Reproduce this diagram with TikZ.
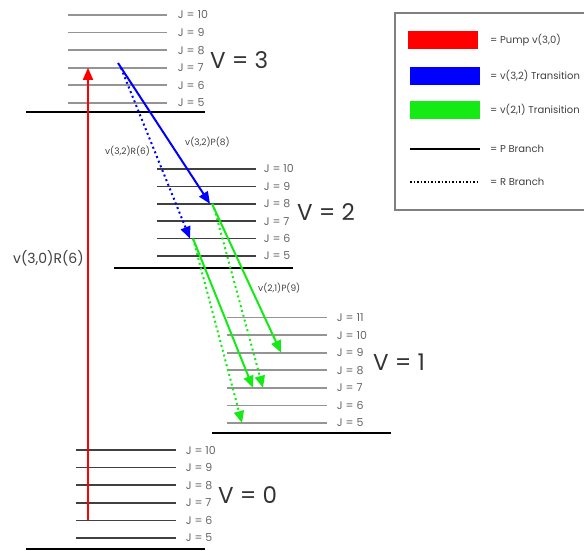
\documentclass[tikz,border=0pt]{standalone}
\usepackage{fontspec}
\setmainfont{Poppins}
\usetikzlibrary{arrows.meta}

\definecolor{pumpred}{RGB}{255,0,0}
\definecolor{transblue}{RGB}{0,0,255}
\definecolor{transgreen}{RGB}{20,235,20}

\begin{document}
\begin{tikzpicture}[x=1pt, y=-1pt,
	jline/.style={line width=1.8pt, draw=black!42},
	jdark/.style={line width=1.6pt, draw=black!75},
	baseline/.style={line width=2.6pt, draw=black},
	jlab/.style={anchor=west, text=black!60, inner sep=0pt, font=\fontsize{11}{13}\selectfont},
	vlab/.style={anchor=west, text=black!80, inner sep=0pt, font=\fontsize{23}{26}\selectfont},
	tlab/.style={anchor=west, text=black!75, inner sep=0pt, font=\fontsize{9}{11}\selectfont},
	legtext/.style={anchor=west, text=black!75, inner sep=0pt, font=\fontsize{10}{12}\selectfont},
	tip/.style={-{Triangle[length=12pt,width=10pt]}},
	pbranch/.style={line width=2pt, tip},
	rbranch/.style={line width=2pt, dash pattern=on 2pt off 3pt, tip},
	]
				\useasboundingbox (0,0) rectangle (584,551);
				
				% Vibrational levels v = 3 and v = 0
				\draw[baseline] (26,112) -- (205,112);
				\draw[baseline] (26,549) -- (205,549);
				\foreach \j in {5,...,10}{
					\draw[jline] (68,{103-17.6*(\j-5)}) -- (167,{103-17.6*(\j-5)}) node[jlab, xshift=10pt] (v3j\j) {J = \j};
					\draw[jdark] (76,{538-17.6*(\j-5)}) -- (176,{538-17.6*(\j-5)}) node[jlab, xshift=9pt] (v0j\j) {J = \j};
				}
				\node[vlab] (v3) at (210,60) {V = 3};
				\node[vlab] (v0) at (218,495) {V = 0};
				
				% Vibrational level v = 2
				\draw[baseline] (114,268) -- (293,268);
				\foreach \j in {5,...,10}
					\draw[jdark] (157,{256-17.4*(\j-5)}) -- (256,{256-17.4*(\j-5)}) node[jlab, xshift=7pt] (v2j\j) {J = \j};
				\node[vlab] (v2) at (297,212) {V = 2};
				
				% Vibrational level v = 1
				\draw[baseline] (212,433) -- (391,433);
				\foreach \j in {5,...,11}
					\draw[jline] (227,{423-17.6*(\j-5)}) -- (327,{423-17.6*(\j-5)}) node[jlab, xshift=9pt] (v1j\j) {J = \j};
				\node[vlab] (v1) at (373,362) {V = 1};
				
				% Define coordinates
				\coordinate (red0) at (88,520.4);
				\coordinate (red3) at (88,67.8);
				\coordinate (b3P) at (118,63);
				\coordinate (b2P) at (210,203.8);
				\coordinate (b3R) at (121,68);
				\coordinate (b2R) at (190,238.6);
				\coordinate (g2P) at (212,203.8);
				\coordinate (g1P) at (281,352.6);
				\coordinate (g2Pr) at (213,203.8);
				\coordinate (g1Pr) at (263,387.8);
				\coordinate (g2R) at (193,238.6);
				\coordinate (g1R) at (253,387.8);
				\coordinate (g2Rr) at (193,238.6);
				\coordinate (g1Rr) at (242,423);
				
				% Pump and transitions
				\draw[pumpred, line width=1.5pt, tip] (red0) -- (red3);
				\draw[transblue, pbranch] (b3P) -- (b2P);
				\draw[transblue, rbranch] (b3R) -- (b2R);
				\draw[transgreen, pbranch] (g2P) -- (g1P);
				\draw[transgreen, rbranch] (g2Pr) -- (g1Pr);
				\draw[transgreen, pbranch] (g2R) -- (g1R);
				\draw[transgreen, rbranch] (g2Rr) -- (g1Rr);
				
				\node[tlab, font=\fontsize{14}{16}\selectfont] (l30R) at (13,258) {v(3,0)R(6)};
				\node[tlab] (l32P) at (185,142) {v(3,2)P(8)};
				\node[tlab] (l32R) at (105,151) {v(3,2)R(6)};
				\node[tlab] (l21P) at (258,288) {v(2,1)P(9)};
				
				% Legend
				\draw[draw=black!50, line width=1.5pt] (395,13) rectangle (600,210);
				\fill[pumpred] (408,31) rectangle (478,49);
				\node[legtext] (legpump) at (490,40) {= Pump v(3,0)};
				\fill[transblue] (410,67) rectangle (480,85);
				\node[legtext] (legblue) at (490,76) {= v(3,2) Transition};
				\fill[transgreen] (410,101) rectangle (480,119);
				\node[legtext] (leggreen) at (490,110) {= v(2,1) Tranisition};
				\draw[line width=1.5pt] (410,149) -- (480,149);
				\node[legtext] (legP) at (490,149) {= P Branch};
				\draw[line width=1.5pt, dash pattern=on 1.5pt off 2pt] (410,182) -- (480,182);
				\node[legtext] (legR) at (490,182) {= R Branch};
			\end{tikzpicture}
\end{document}
